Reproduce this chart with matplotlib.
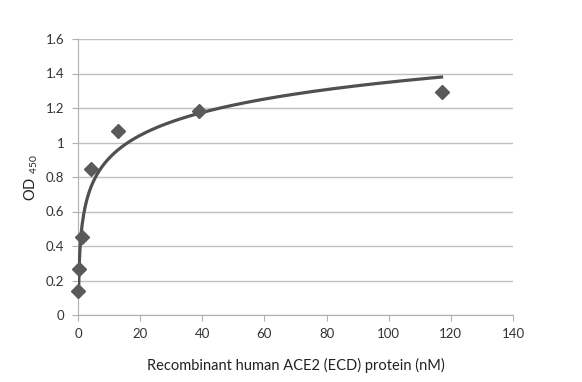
import numpy as np
import matplotlib.pyplot as plt

# ACE2 concentration (nM) and OD450 readings
conc = [117, 39, 13, 4.33, 1.44, 0.48, 0.16]
od450 = [1.29, 1.18, 1.065, 0.845, 0.455, 0.265, 0.14]

x_ticks = [0, 20, 40, 60, 80, 100, 120, 140]
y_ticks = [0, 0.2, 0.4, 0.6, 0.8, 1, 1.2, 1.4, 1.6]

plt.rcParams['font.family'] = ['Lato', 'DejaVu Sans']
plt.rcParams['mathtext.fontset'] = 'custom'
plt.rcParams['mathtext.rm'] = 'Lato'

fig = plt.figure(figsize=(5.82, 3.82), dpi=100)
ax = fig.add_axes([78 / 582, 1 - 315 / 382, 435 / 582, 276 / 382])

# logarithmic trendline (least squares on ln x)
a, b = np.polyfit(np.log(conc), od450, 1)
xs = np.linspace(min(conc), max(conc), 500)
ax.plot(xs, a * np.log(xs) + b, color='#505050', lw=2.3, zorder=3)

ax.plot(conc, od450, linestyle='none', marker='D', color='#5a5a5a',
        markersize=7, zorder=4, clip_on=False)

ax.set_xlim(0, 140)
ax.set_ylim(0, 1.6)
ax.set_xticks(x_ticks)
ax.set_yticks(y_ticks)
ax.set_yticklabels([f'{v:g}' for v in y_ticks])
ax.grid(axis='y', color='#c0c0c0', lw=1)
ax.set_axisbelow(True)

for s in ['top', 'right']:
    ax.spines[s].set_visible(False)
for s in ['left', 'bottom']:
    ax.spines[s].set_color('#b0b0b0')
ax.tick_params(colors='#b0b0b0', labelcolor='#333333', labelsize=9.5, length=4)
ax.tick_params(axis='y', pad=6)
ax.tick_params(axis='x', pad=5)

ax.set_xlabel('Recombinant human ACE2 (ECD) protein (nM)', fontsize=10.5,
              color='#222222', labelpad=13)
ax.set_ylabel(r'OD$\mathrm{\ _{450}}$', fontsize=10.5, color='#222222', labelpad=4)

fig.savefig('out.png', dpi=100)
